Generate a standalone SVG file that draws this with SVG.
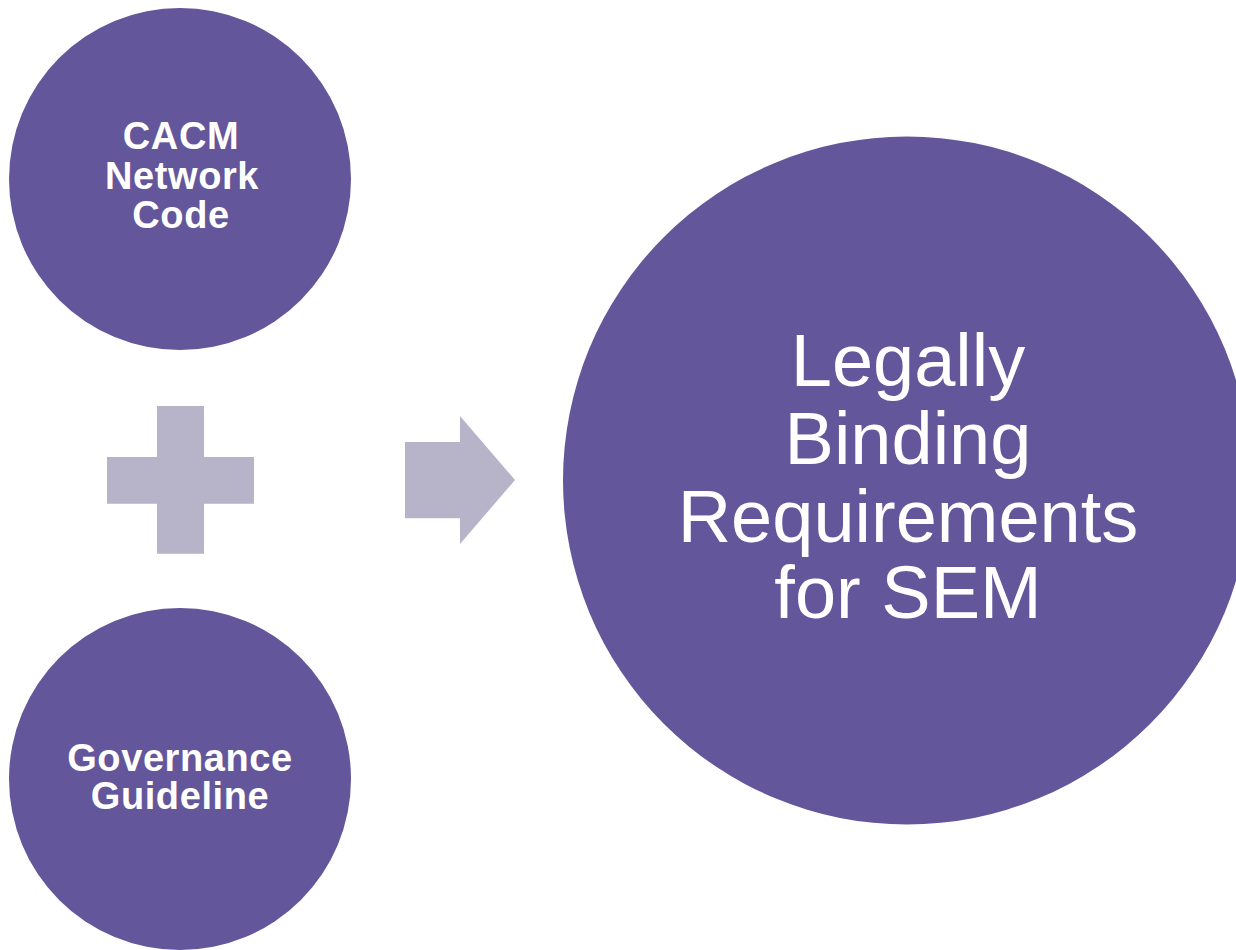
<svg xmlns="http://www.w3.org/2000/svg" width="1236" height="950" viewBox="0 0 1236 950">
<style>
.node{fill:#63569a}
.sym{fill:#b7b4ca}
.sm{font-family:"Liberation Sans",Arial,sans-serif;font-weight:bold;font-size:38px;letter-spacing:0.6px;fill:#ffffff;text-anchor:middle}
.lg{font-family:"Liberation Sans",Arial,sans-serif;font-size:74px;fill:#ffffff;text-anchor:middle}
</style>
<rect width="1236" height="950" fill="#ffffff"/>
<g id="cacm">
<circle class="node" cx="180" cy="179" r="171"/>
<text class="sm" x="181" y="149">CACM</text>
<text class="sm" x="182" y="189">Network</text>
<text class="sm" x="181" y="228">Code</text>
</g>
<g id="governance">
<circle class="node" cx="180" cy="779" r="171"/>
<text class="sm" x="180" y="771">Governance</text>
<text class="sm" x="180" y="809">Guideline</text>
</g>
<g id="legally">
<circle class="node" cx="907" cy="480.5" r="344"/>
<text class="lg" x="908" y="386">Legally</text>
<text class="lg" x="908" y="464">Binding</text>
<text class="lg" x="908" y="542">Requirements</text>
<text class="lg" x="908" y="618">for SEM</text>
</g>
<g id="connectors">
<path id="plus" class="sym" d="M157 406H204V457H254V503.7H204V553.7H157V503.7H107V457H157Z"/>
<path id="arrow" class="sym" d="M405 442H460V416L515 480L460 544V518.3H405Z"/>
</g>
</svg>
